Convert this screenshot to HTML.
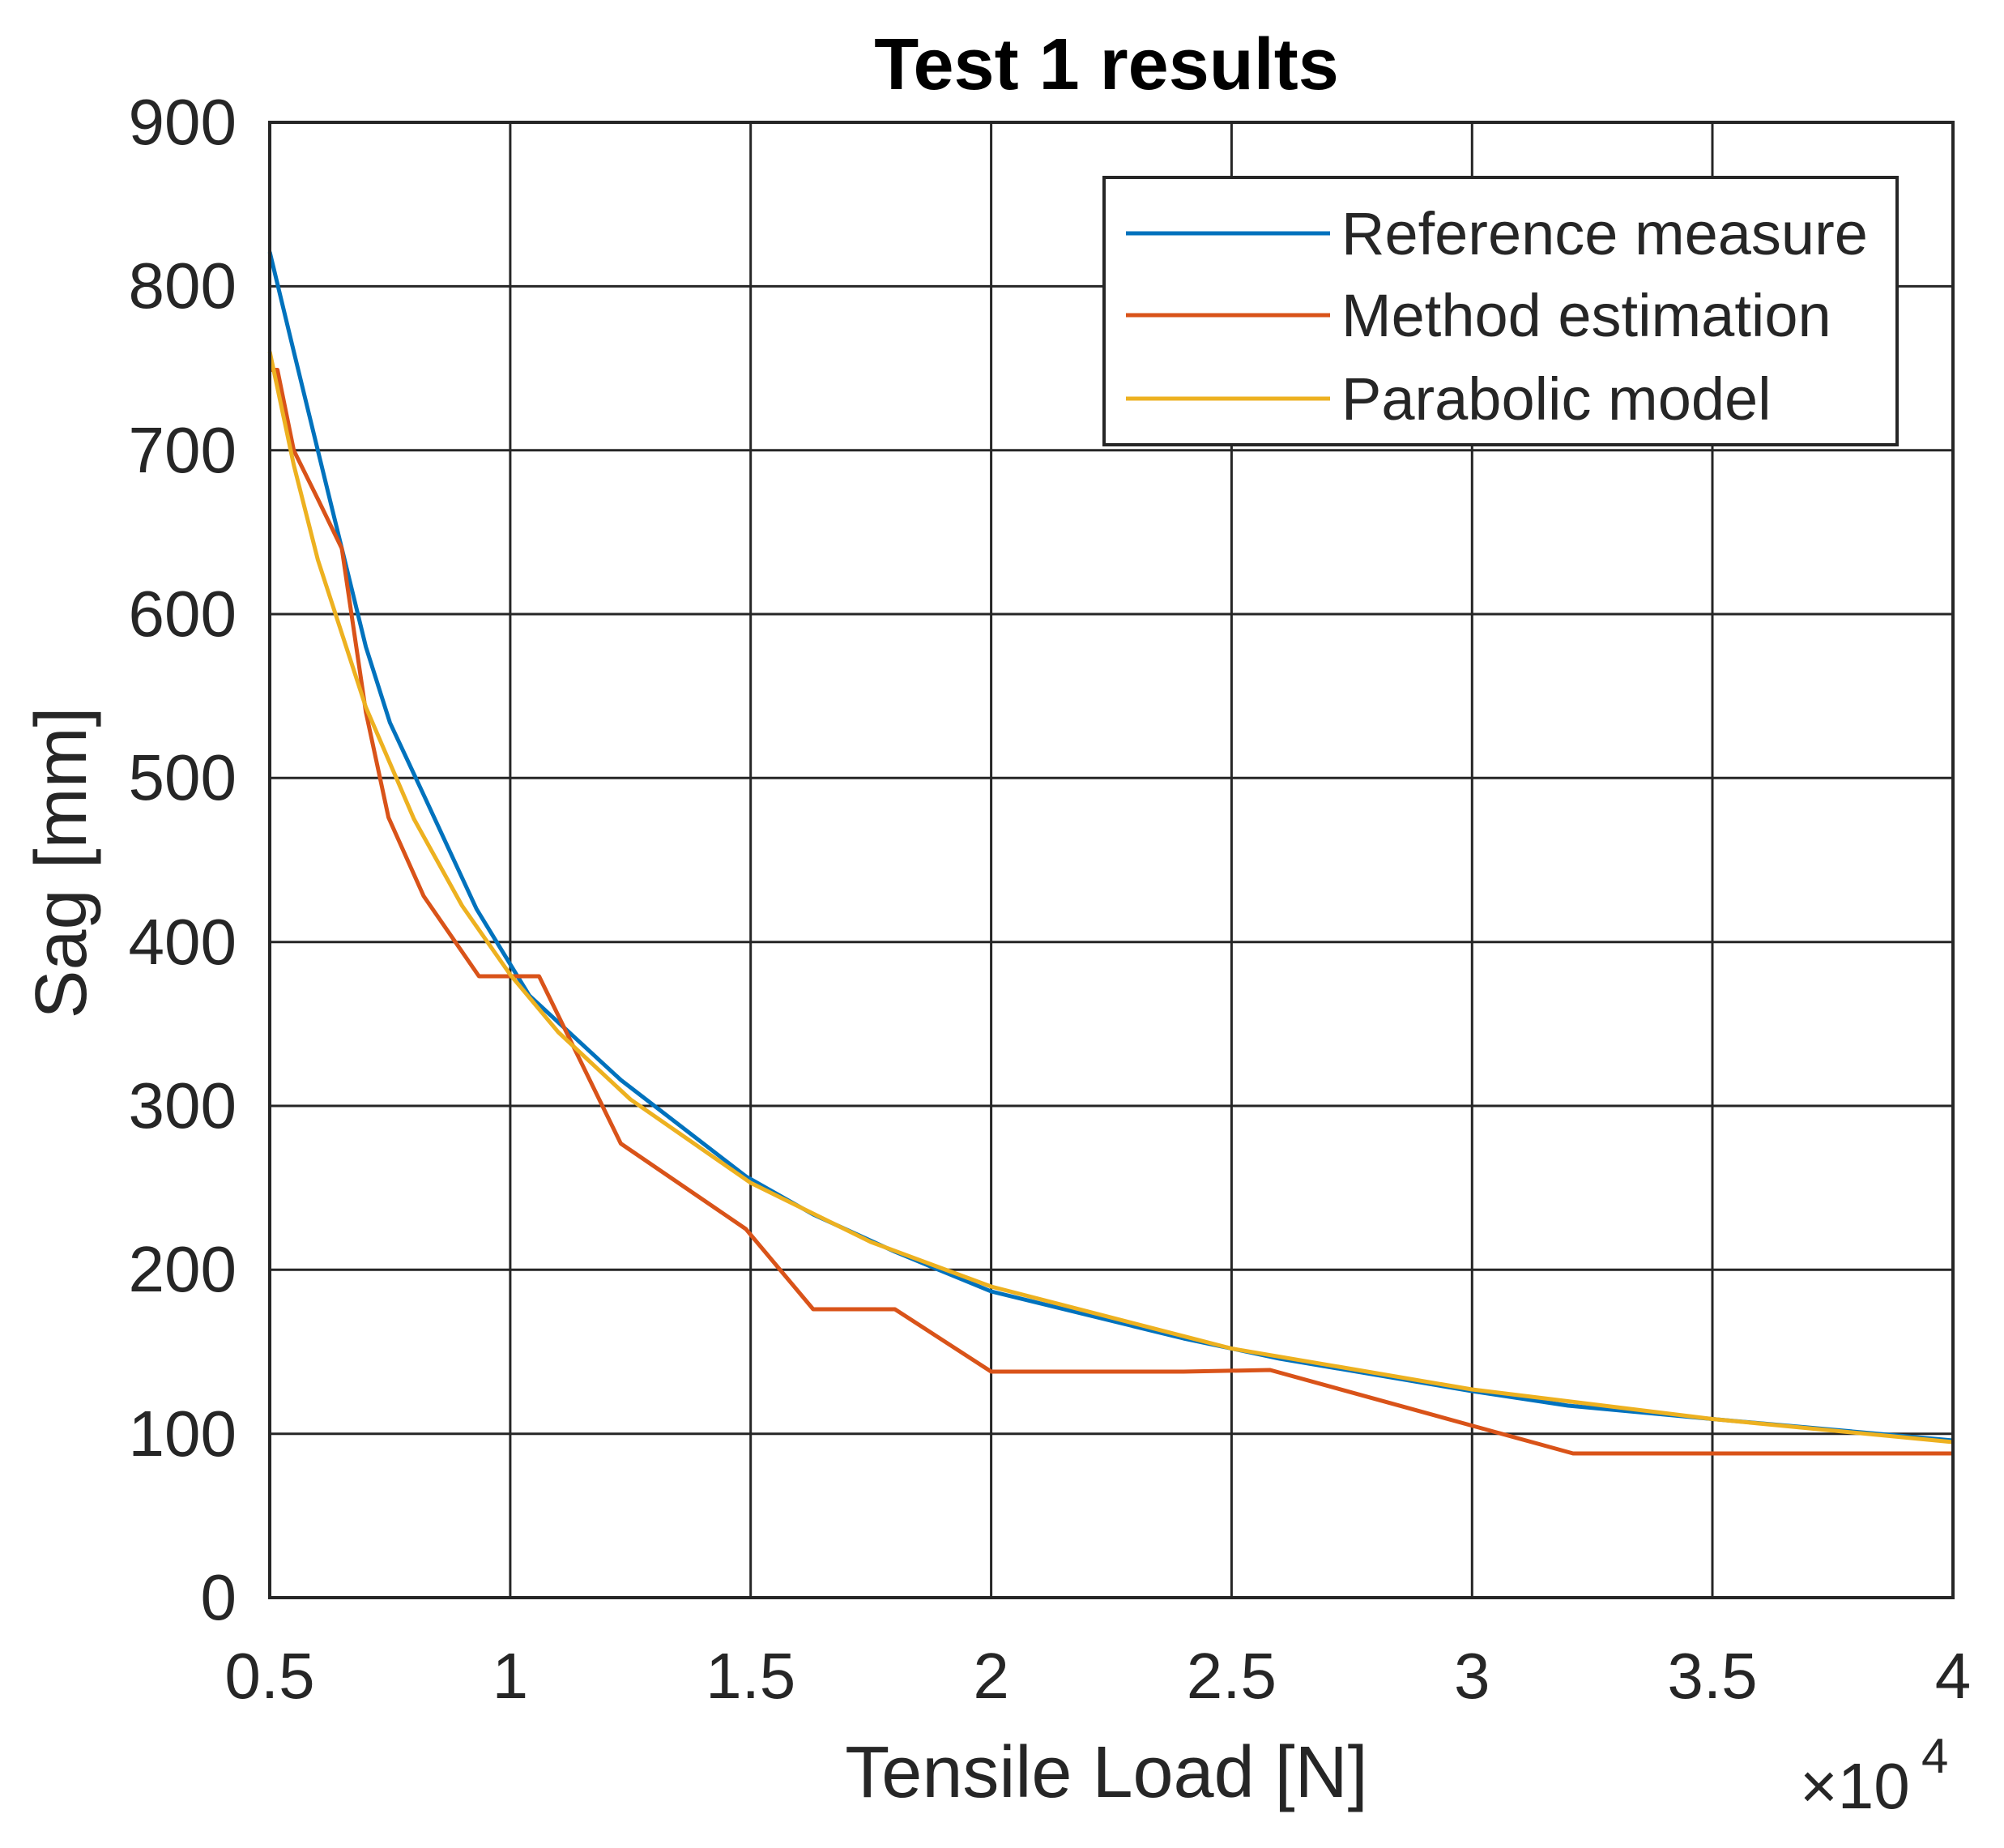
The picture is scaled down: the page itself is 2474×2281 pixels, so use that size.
<!DOCTYPE html>
<html><head><meta charset="utf-8"><style>
html,body{margin:0;padding:0;background:#fff}
svg{display:block}
text{font-family:"Liberation Sans",Arial,sans-serif;fill:#262626}
</style></head><body>
<svg width="2474" height="2281" viewBox="0 0 2474 2281" xmlns="http://www.w3.org/2000/svg">
<rect width="2474" height="2281" fill="#fff"/>
<g stroke="#262626" stroke-width="3">
<line x1="629.9" y1="151" x2="629.9" y2="1972"/>
<line x1="926.7" y1="151" x2="926.7" y2="1972"/>
<line x1="1223.6" y1="151" x2="1223.6" y2="1972"/>
<line x1="1520.4" y1="151" x2="1520.4" y2="1972"/>
<line x1="1817.3" y1="151" x2="1817.3" y2="1972"/>
<line x1="2114" y1="151" x2="2114" y2="1972"/>
<line x1="333" y1="1769.7" x2="2411" y2="1769.7"/>
<line x1="333" y1="1567.3" x2="2411" y2="1567.3"/>
<line x1="333" y1="1365" x2="2411" y2="1365"/>
<line x1="333" y1="1162.7" x2="2411" y2="1162.7"/>
<line x1="333" y1="960.3" x2="2411" y2="960.3"/>
<line x1="333" y1="758" x2="2411" y2="758"/>
<line x1="333" y1="555.7" x2="2411" y2="555.7"/>
<line x1="333" y1="353.4" x2="2411" y2="353.4"/>
</g>
<g fill="none" stroke-width="5" stroke-linejoin="round">
<polyline stroke="#0072BD" points="333,311 362.7,434 392.4,556 422,677 451.7,798.5 481.4,892 523,981 588.3,1122 653.6,1229 766.4,1333 920.8,1452 1003.9,1499 1104.8,1545 1223.6,1594 1461,1652 1579.8,1677 1817,1717 1936,1735 2114,1751.5 2411,1778"/>
<polyline stroke="#D95319" points="333,456.5 342.5,456.5 362.7,556 392.4,616 422,677 451.7,879 479.6,1009 523,1106 591.3,1205 665.5,1205 766.4,1411.5 920.8,1517 1003.9,1616 1104.8,1616 1223.6,1693 1461,1693 1568,1691 1817,1759.6 1942,1794 2411,1794"/>
<polyline stroke="#EDB120" points="333,434 362.7,574 392.4,691 451.7,873 511.1,1011 570.5,1118 629.9,1203 689.2,1274 778.3,1357 926.7,1460 1075.1,1533 1223.6,1588 1520.4,1664.5 1817.3,1715 2114,1751.5 2411,1780"/>
</g>
<rect x="333" y="151" width="2078" height="1821" fill="none" stroke="#262626" stroke-width="4"/>
<rect x="1363" y="219" width="979" height="330" fill="#fff" stroke="#262626" stroke-width="4"/>
<line x1="1390" y1="288" x2="1642" y2="288" stroke="#0072BD" stroke-width="5"/>
<line x1="1390" y1="389" x2="1642" y2="389" stroke="#D95319" stroke-width="5"/>
<line x1="1390" y1="492" x2="1642" y2="492" stroke="#EDB120" stroke-width="5"/>
<g font-size="74">
<text x="1656" y="314">Reference measure</text>
<text x="1656" y="415">Method estimation</text>
<text x="1656" y="518">Parabolic model</text>
</g>
<g font-size="80" text-anchor="end">
<text x="292" y="1999">0</text>
<text x="292" y="1797">100</text>
<text x="292" y="1594">200</text>
<text x="292" y="1392">300</text>
<text x="292" y="1190">400</text>
<text x="292" y="987">500</text>
<text x="292" y="785">600</text>
<text x="292" y="583">700</text>
<text x="292" y="380">800</text>
<text x="292" y="178">900</text>
</g>
<g font-size="80" text-anchor="middle">
<text x="333" y="2096">0.5</text>
<text x="629.9" y="2096">1</text>
<text x="926.7" y="2096">1.5</text>
<text x="1223.6" y="2096">2</text>
<text x="1520.4" y="2096">2.5</text>
<text x="1817.3" y="2096">3</text>
<text x="2114" y="2096">3.5</text>
<text x="2411" y="2096">4</text>
</g>
<text x="1366" y="110" font-size="90" font-weight="bold" text-anchor="middle" style="fill:#000">Test 1 results</text>
<text x="1366" y="2218" font-size="90" text-anchor="middle">Tensile Load [N]</text>
<text transform="translate(106,1065) rotate(-90)" font-size="90" text-anchor="middle">Sag [mm]</text>
<text x="2222" y="2232" font-size="80">×10</text>
<text x="2372" y="2188" font-size="60">4</text>
</svg>
</body></html>
